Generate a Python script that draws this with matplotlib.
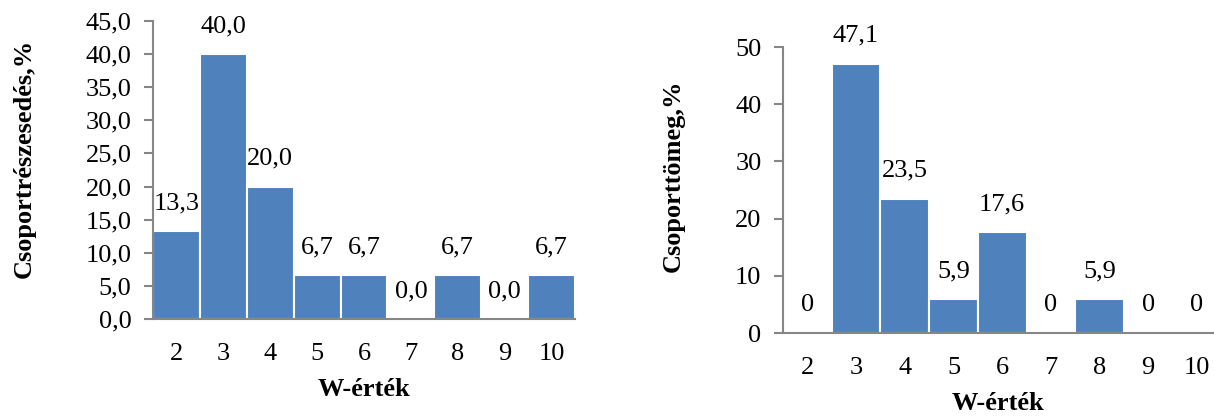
import matplotlib
matplotlib.use('Agg')
import matplotlib.pyplot as plt
from matplotlib.ticker import FuncFormatter, MultipleLocator

plt.rcParams['font.family'] = ['Liberation Serif', 'DejaVu Serif']

# ===== 数据 =====
w_values = [2, 3, 4, 5, 6, 7, 8, 9, 10]
share_pct = [13.3, 40.0, 20.0, 6.7, 6.7, 0.0, 6.7, 0.0, 6.7]
mass_pct = [0, 47.1, 23.5, 5.9, 17.6, 0, 5.9, 0, 0]

BAR_COLOR = '#4F81BD'
AXIS_COLOR = '#868686'
FS = 19

fig = plt.figure(figsize=(12.14, 4.16), dpi=100)
ax1 = fig.add_axes([153 / 1214, 1 - 319 / 416, 422 / 1214, 298 / 416])
ax2 = fig.add_axes([783 / 1214, 1 - 333 / 416, 431 / 1214, 286 / 416])


def style_axis(ax):
    for side in ('top', 'right'):
        ax.spines[side].set_visible(False)
    for side in ('left', 'bottom'):
        ax.spines[side].set_color(AXIS_COLOR)
        ax.spines[side].set_linewidth(1.5)
    ax.tick_params(axis='y', length=6.5, width=1.5, color=AXIS_COLOR,
                   pad=9, labelsize=FS)
    ax.tick_params(axis='x', length=0, pad=17, labelsize=FS)
    ax.set_xticks(w_values)
    ax.set_xticklabels([str(w) for w in w_values])


# 左图：组份额
ax1.bar(w_values, share_pct, width=1.0, color=BAR_COLOR,
        edgecolor='white', linewidth=1.5)
ax1.set_xlim(1.5, 10.5)
ax1.set_ylim(0, 45)
ax1.yaxis.set_major_locator(MultipleLocator(5))
ax1.yaxis.set_major_formatter(FuncFormatter(lambda v, p: f'{v:.1f}'.replace('.', ',')))
style_axis(ax1)
for x, v in zip(w_values, share_pct):
    ax1.annotate(f'{v:.1f}'.replace('.', ','), (x, v), xytext=(0, 12),
                 textcoords='offset points', ha='center', va='bottom', fontsize=FS)
ax1.set_ylabel('Csoportrészesedés,%', fontsize=FS, fontweight='bold', va='center')
ax1.yaxis.set_label_coords(-0.306, 0.54)
ax1.set_xlabel('W-érték', fontsize=FS, fontweight='bold', va='center')
ax1.xaxis.set_label_coords(0.5, -0.238)

# 右图：组质量
ax2.bar(w_values, mass_pct, width=1.0, color=BAR_COLOR,
        edgecolor='white', linewidth=1.5)
ax2.set_xlim(1.5, 1.5 + 431 / 48.7)
ax2.set_ylim(0, 50)
ax2.yaxis.set_major_locator(MultipleLocator(10))
ax2.yaxis.set_major_formatter(FuncFormatter(lambda v, p: f'{v:g}'))
style_axis(ax2)
for x, v in zip(w_values, mass_pct):
    ax2.annotate(f'{v:g}'.replace('.', ','), (x, v), xytext=(0, 12),
                 textcoords='offset points', ha='center', va='bottom', fontsize=FS)
ax2.set_ylabel('Csoporttömeg,%', fontsize=FS, fontweight='bold', va='center')
ax2.yaxis.set_label_coords(-0.255, 0.549)
ax2.set_xlabel('W-érték', fontsize=FS, fontweight='bold', va='center')
ax2.xaxis.set_label_coords(0.5, -0.245)

fig.savefig('out.png', dpi=100)
